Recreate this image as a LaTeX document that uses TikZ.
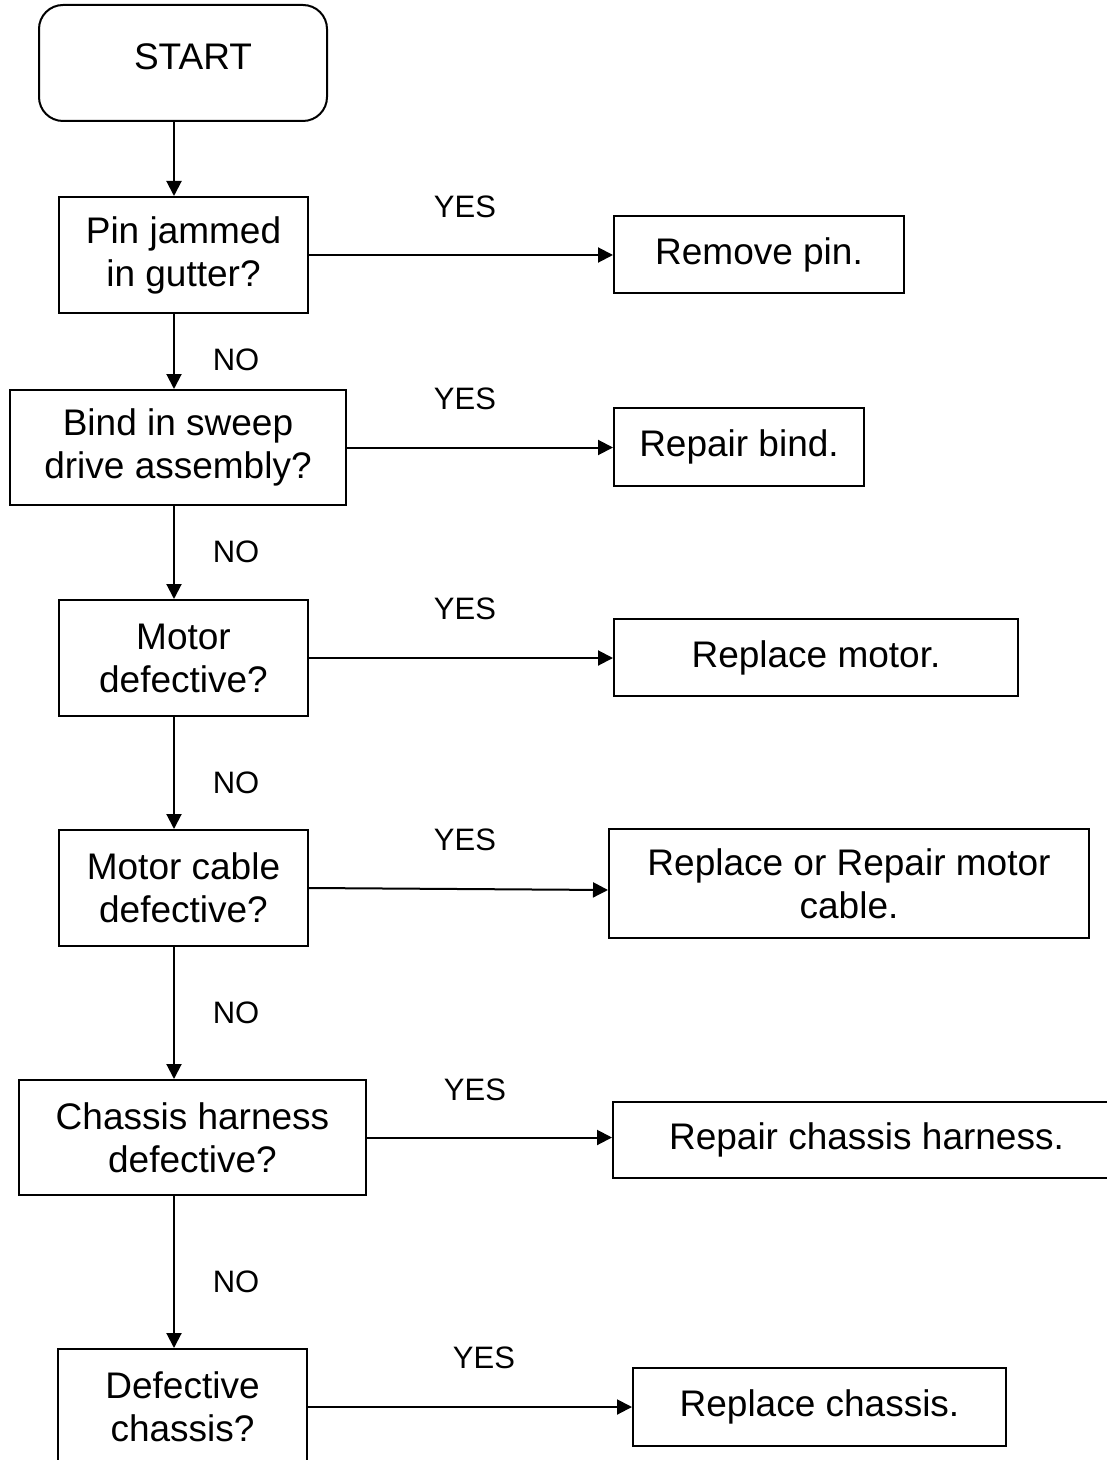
\documentclass[tikz,border=0pt]{standalone}
\usepackage{fontspec}
\setmainfont{Liberation Sans}
\usetikzlibrary{arrows.meta}
\begin{document}
\begin{tikzpicture}[x=0.5pt,y=-0.5pt,
 box/.style={draw, line width=1pt, rectangle, inner sep=0pt, align=center, font=\fontsize{18.5}{21.5}\selectfont},
 arr/.style={line width=1pt, -{Triangle[length=7.5pt,width=7.5pt]}},
 lab/.style={font=\fontsize{15.5}{18}\selectfont, inner sep=0pt}]
\useasboundingbox (0,0) rectangle (1107,1460);
\clip (0,0) rectangle (1107,1460);
% start
\node[box, rounded corners=12pt, minimum width=144pt, minimum height=58pt] (start) at (183,63) {};
\node[box, draw=none] (starttext) at (193,57) {START};
% questions
\node[box, minimum width=124.5pt, minimum height=58pt] (b1) at (183.5,255) {Pin jammed\\in gutter?};
\node[box, minimum width=168pt, minimum height=57.5pt] (b2) at (178,447.5) {Bind in sweep\\drive assembly?};
\node[box, minimum width=124.5pt, minimum height=58pt] (b3) at (183.5,658) {Motor\\defective?};
\node[box, minimum width=124.5pt, minimum height=58pt] (b4) at (183.5,888) {Motor cable\\defective?};
\node[box, minimum width=173.5pt, minimum height=57.5pt] (b5) at (192.5,1137.5) {Chassis harness\\defective?};
\node[box, minimum width=124.5pt, minimum height=58pt] (b6) at (182.5,1407) {Defective\\chassis?};
% actions
\node[box, minimum width=145pt, minimum height=38.5pt] (r1) at (759,254.5) {Remove pin.};
\node[box, minimum width=125pt, minimum height=39pt] (r2) at (739,447) {Repair bind.};
\node[box, minimum width=202pt, minimum height=38.5pt] (r3) at (816,657.5) {Replace motor.};
\node[box, minimum width=240pt, minimum height=54.5pt] (r4) at (849,883.5) {Replace or Repair motor\\cable.};
\node[box, minimum width=253.5pt, minimum height=38pt] (r5) at (866.5,1140) {Repair chassis harness.};
\node[box, minimum width=186.5pt, minimum height=39pt] (r6) at (819.5,1407) {Replace chassis.};
% labels
\node[lab] (y1) at (465,207) {YES};
\node[lab] (y2) at (465,399) {YES};
\node[lab] (y3) at (465,609) {YES};
\node[lab] (y4) at (465,840) {YES};
\node[lab] (y5) at (475,1090) {YES};
\node[lab] (y6) at (484,1358) {YES};
\node[lab] (n1) at (236,360) {NO};
\node[lab] (n2) at (236,552) {NO};
\node[lab] (n3) at (236,783) {NO};
\node[lab] (n4) at (236,1013) {NO};
\node[lab] (n5) at (236,1282) {NO};
% connectors
\coordinate (sp) at (174,0);
\draw[arr] (start.south -| sp) -- (b1.north -| sp);
\draw[arr] (b1.south -| sp) -- (b2.north -| sp);
\draw[arr] (b2.south -| sp) -- (b3.north -| sp);
\draw[arr] (b3.south -| sp) -- (b4.north -| sp);
\draw[arr] (b4.south -| sp) -- (b5.north -| sp);
\draw[arr] (b5.south -| sp) -- (b6.north -| sp);
\draw[arr] (b1.east) -- (b1.east -| r1.west);
\draw[arr] (b2.east) -- (b2.east -| r2.west);
\draw[arr] (b3.east) -- (b3.east -| r3.west);
\draw[arr] (b4.east) -- ([yshift=-1pt]b4.east -| r4.west);
\draw[arr] (b5.east) -- (b5.east -| r5.west);
\draw[arr] (b6.east) -- (b6.east -| r6.west);
\end{tikzpicture}
\end{document}
